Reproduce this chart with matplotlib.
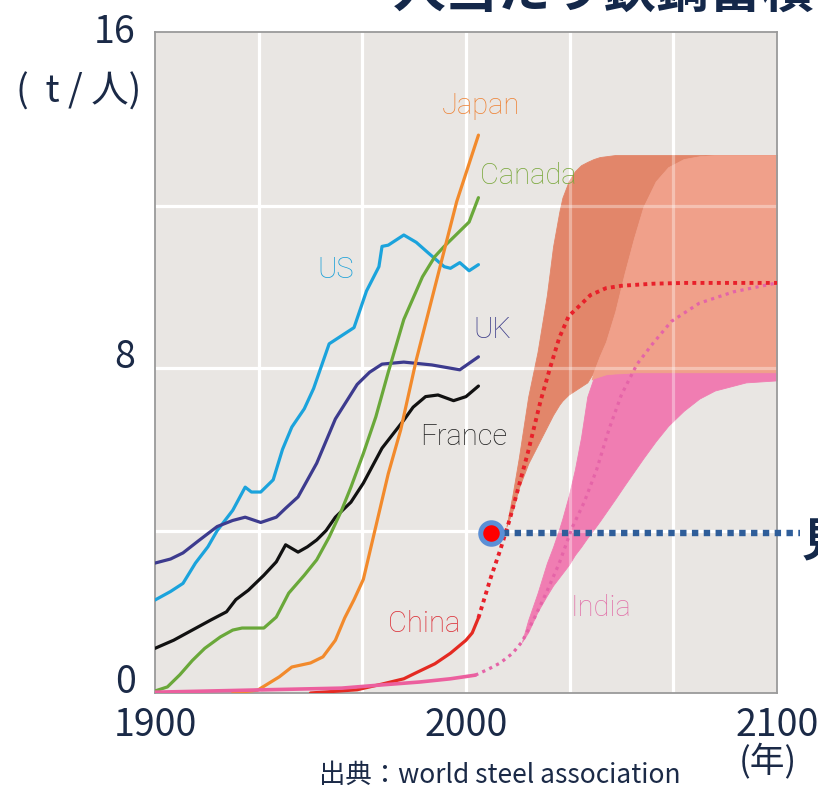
import numpy as np
import matplotlib
matplotlib.use("Agg")
import matplotlib.pyplot as plt
import matplotlib.transforms as mtransforms

# ---------------- data (t per capita steel stock) ----------------
us_years = [1900, 1905, 1909, 1913, 1917, 1920, 1925, 1929, 1931, 1934, 1938, 1941, 1944, 1948, 1951,
            1956, 1962, 1964, 1968, 1972, 1973, 1975, 1980, 1984, 1988, 1993, 1995, 1998, 2001, 2004]
us_vals = [2.29, 2.5, 2.7, 3.2, 3.6, 4.0, 4.5, 5.07, 4.95, 4.95, 5.25, 6.0, 6.55, 7.0, 7.5,
           8.6, 8.9, 9.0, 9.9, 10.5, 11.0, 11.03, 11.28, 11.1, 10.83, 10.5, 10.46, 10.6, 10.4, 10.55]

uk_years = [1900, 1905, 1909, 1914, 1920, 1925, 1929, 1934, 1939, 1942, 1946, 1952, 1958, 1965, 1969,
            1973, 1980, 1989, 1998, 2004]
uk_vals = [3.2, 3.3, 3.45, 3.75, 4.1, 4.25, 4.33, 4.2, 4.33, 4.55, 4.83, 5.66, 6.75, 7.6, 7.9,
           8.1, 8.15, 8.08, 7.96, 8.28]

fr_years = [1900, 1906, 1912, 1918, 1923, 1926, 1930, 1935, 1939, 1942, 1946, 1949, 1952, 1955, 1958,
            1963, 1967, 1973, 1980, 1983, 1987, 1991, 1996, 2000, 2004]
fr_vals = [1.1, 1.3, 1.55, 1.8, 2.0, 2.3, 2.53, 2.9, 3.23, 3.65, 3.47, 3.6, 3.77, 4.0, 4.33,
           4.7, 5.17, 6.03, 6.72, 7.04, 7.3, 7.34, 7.2, 7.3, 7.56]

ca_years = [1900, 1904, 1908, 1912, 1916, 1921, 1925, 1928, 1935, 1939, 1943, 1948, 1952, 1956, 1960,
            1963, 1967, 1971, 1975, 1980, 1986, 1990, 1993, 1997, 2001, 2004]
ca_vals = [0.05, 0.15, 0.45, 0.8, 1.1, 1.38, 1.55, 1.6, 1.6, 1.87, 2.46, 2.9, 3.28, 3.84, 4.5,
           5.07, 5.9, 6.8, 7.9, 9.2, 10.25, 10.75, 11.0, 11.3, 11.6, 12.2]

jp_years = [1925, 1933, 1940, 1944, 1950, 1954, 1958, 1961, 1964, 1967, 1971, 1975, 1979, 1984, 1990,
            1997, 2004]
jp_vals = [0.0, 0.07, 0.4, 0.64, 0.74, 0.89, 1.3, 1.85, 2.3, 2.8, 4.1, 5.4, 6.48, 8.2, 10.0,
           12.1, 13.74]

cn_years = [1950, 1965, 1973, 1980, 1984, 1990, 1995, 2000, 2002, 2004]
cn_vals = [0.0, 0.08, 0.22, 0.35, 0.5, 0.72, 0.98, 1.3, 1.48, 1.85]

in_years = [1900, 1930, 1960, 1973, 1985, 1995, 2003]
in_vals = [0.02, 0.07, 0.12, 0.2, 0.27, 0.35, 0.44]

# projections (dotted)
cn_proj_years = [2004, 2008, 2011, 2014, 2017, 2020, 2024, 2027, 2030, 2033, 2036, 2040, 2045, 2050,
                 2060, 2070, 2080, 2090, 2100]
cn_proj_vals = [1.85, 2.85, 3.52, 4.26, 5.1, 5.95, 7.2, 8.0, 8.75, 9.28, 9.5, 9.8, 9.97, 10.03,
                10.08, 10.1, 10.1, 10.1, 10.1]

in_proj_years = [2003, 2007, 2011, 2015, 2018, 2022, 2026, 2030, 2034, 2038, 2042, 2046, 2050, 2055,
                 2060, 2066, 2075, 2086, 2100]
in_proj_vals = [0.44, 0.58, 0.74, 0.98, 1.26, 1.85, 2.5, 3.2, 4.05, 4.7, 5.5, 6.5, 7.35, 8.1,
                8.6, 9.15, 9.6, 9.88, 10.1]

# projection ranges (bands)
band_years = [2013, 2015, 2017, 2018, 2020, 2023, 2026, 2028, 2030, 2031, 2033, 2035, 2037, 2039, 2041,
              2043, 2045, 2048, 2051, 2054, 2057, 2061, 2065, 2070, 2075, 2080, 2090, 2100]
cn_band_hi = [4.1, 4.9, 5.8, 6.3, 7.3, 8.4, 9.8, 11.0, 11.85, 12.2, 12.6, 12.85, 13.0, 13.08, 13.15,
              13.2, 13.22, 13.25, 13.25, 13.25, 13.25, 13.25, 13.25, 13.25, 13.25, 13.25, 13.25, 13.25]
cn_band_lo = [4.1, 4.5, 5.05, 5.25, 5.65, 6.1, 6.55, 6.85, 7.1, 7.2, 7.35, 7.45, 7.55, 7.65, 7.75,
              7.8, 7.85, 7.87, 7.88, 7.9, 7.9, 7.9, 7.9, 7.9, 7.9, 7.9, 7.9, 7.9]
in_band_hi = [np.nan, np.nan, np.nan, 1.26, 1.8, 2.46, 3.2, 3.6, 4.05, 4.3, 4.85, 5.5, 6.3, 7.3, 7.9,
              8.3, 8.65, 9.4, 10.34, 11.2, 11.97, 12.6, 12.95, 13.15, 13.22, 13.25, 13.25, 13.25]
in_band_lo = [np.nan, np.nan, np.nan, 1.26, 1.5, 2.0, 2.4, 2.65, 2.85, 2.95, 3.15, 3.4, 3.6, 3.82, 4.02,
              4.23, 4.45, 4.78, 5.12, 5.45, 5.78, 6.2, 6.58, 6.95, 7.25, 7.45, 7.65, 7.7]

marker_year, marker_val = 2008, 3.94
leader_end_year = 2107.5

x_ticks = [1900, 2000, 2100]
x_ticklabels = ["1900", "2000", "2100"]
y_ticks = [0, 8, 16]
y_ticklabels = ["0", "8", "16"]
grid_x = list(np.linspace(1900, 2100, 7)[1:-1])
grid_y = [4, 8, 12]

# ---------------- style ----------------
NAVY = "#1b2a47"
plt.rcParams['font.family'] = ['Noto Sans CJK JP', 'DejaVu Sans']
LABEL_FONT = ['Roboto', 'DejaVu Sans']

W, H = 818, 788
fig = plt.figure(figsize=(W / 100, H / 100), dpi=100)
fig.patch.set_facecolor('white')
ax = fig.add_axes([155 / W, 1 - 693 / H, (777 - 155) / W, (693 - 32) / H])
ax.set_xlim(1900, 2100)
ax.set_ylim(0, 16.28)
ax.set_facecolor('#e9e6e3')
for s in ax.spines.values():
    s.set_color('#9a9a9a')
    s.set_linewidth(1.3)

# grid under everything
for gx in grid_x:
    ax.axvline(gx, color='white', lw=2.3, zorder=0.5)
for gy in grid_y:
    ax.axhline(gy, color='white', lw=2.3, zorder=0.5)

# ---------------- bands ----------------
by = np.array(band_years, dtype=float)
cH = np.array(cn_band_hi); cL = np.array(cn_band_lo)
iH = np.array(in_band_hi); iL = np.array(in_band_lo)
has_in = ~np.isnan(iH)

C_DARK = '#e2866a'
C_OVER = '#f0a08a'
C_PINK = '#f07db2'

cn_only_lo = np.fmax(cL, iH)
ax.fill_between(by, cn_only_lo, cH, where=cn_only_lo < cH + 1e-9, interpolate=True,
                facecolor=C_DARK, edgecolor=C_DARK, lw=0.6, zorder=1)
in_only_hi = np.where(has_in, np.fmin(iH, cL), np.nan)
ax.fill_between(by, np.where(has_in, iL, np.nan), in_only_hi, where=has_in, interpolate=True,
                facecolor=C_PINK, edgecolor=C_PINK, lw=0.6, zorder=1)
ov_hi = np.where(has_in, iH, cL)
ax.fill_between(by, cL, ov_hi, where=ov_hi > cL, interpolate=True,
                facecolor=C_OVER, edgecolor=C_OVER, lw=0.6, zorder=1.1)

# faint grid showing through the bands
for gx in grid_x:
    ax.axvline(gx, color='white', lw=2.3, alpha=0.35, zorder=1.5)
for gy in grid_y:
    ax.axhline(gy, color='white', lw=2.3, alpha=0.35, zorder=1.5)

# ---------------- lines ----------------
LW = 2.3
ax.plot(us_years, us_vals, color='#1ba3dc', lw=LW, zorder=3, solid_capstyle='round')
ax.plot(uk_years, uk_vals, color='#3d3b8e', lw=LW, zorder=3, solid_capstyle='round')
ax.plot(fr_years, fr_vals, color='#111111', lw=LW, zorder=3, solid_capstyle='round')
ax.plot(ca_years, ca_vals, color='#6aa83a', lw=LW, zorder=3, solid_capstyle='round')
ax.plot(jp_years, jp_vals, color='#f28a2c', lw=LW, zorder=3, solid_capstyle='round')
ax.plot(cn_years, cn_vals, color='#e42a22', lw=LW, zorder=3, solid_capstyle='round')
ax.plot(in_years, in_vals, color='#ec5f9e', lw=LW + 0.3, zorder=3.2, solid_capstyle='round')

ax.plot(cn_proj_years, cn_proj_vals, color='#e8202a', lw=2.8, ls=(0, (1, 1.1)), zorder=3.5)
ax.plot(in_proj_years, in_proj_vals, color='#e564a8', lw=2.3, ls=(0, (1, 1.4)), zorder=3.4)

# leader line + marker
ax.plot([marker_year, leader_end_year], [marker_val, marker_val], color='#2f5e9a', lw=4.6,
        ls=(0, (1.0, 0.85)), solid_capstyle='butt', dash_capstyle='butt', zorder=4, clip_on=False)
ax.plot([marker_year], [marker_val], marker='o', ms=15.5, mew=3.6, mfc='#ff0000',
        mec='#5b8fd6', zorder=5, clip_on=False)

# ---------------- labels in plot ----------------
lbl = dict(family=LABEL_FONT, fontweight='light', fontsize=21, ha='center', va='center', zorder=6)
ax.text(2004.8, 14.46, "Japan", color='#ee8438', **lbl)
ax.text(2019.9, 12.73, "Canada", color='#7aa83c', **lbl)
ax.text(1958.2, 10.42, "US", color='#1aa0d8', **lbl)
ax.text(2008.4, 8.94, "UK", color='#3e3e8a', **lbl)
ax.text(1999.4, 6.31, "France", color='#222222', **lbl)
ax.text(1986.5, 1.70, "China", color='#dc3038', **lbl)
ax.text(2043.4, 2.09, "India", color='#e274aa', **lbl)

# ---------------- ticks ----------------
ax.set_xticks(x_ticks, x_ticklabels)
ax.set_yticks(y_ticks, y_ticklabels)
ax.tick_params(axis='both', length=0, labelsize=27, labelcolor=NAVY)
ax.tick_params(axis='x', pad=9)
ax.tick_params(axis='y', pad=14)
off = mtransforms.ScaledTranslation(0, 0.15, fig.dpi_scale_trans)
for t in ax.yaxis.get_major_ticks():
    t.label1.set_transform(t.label1.get_transform() + off)

# ---------------- figure texts ----------------
fig.text(79 / W, 1 - 92 / H, "(  t / 人)", fontsize=27, color=NAVY, ha='center', va='center')
fig.text(768 / W, 1 - 762 / H, "(年)", fontsize=25, color=NAVY, ha='center', va='center')
fig.text(500 / W, 1 - 783 / H, "出典：world steel association", fontsize=19, color=NAVY,
         ha='center', va='baseline')
fig.text(393 / W, 1 - 7 / H, "人当たり鉄鋼蓄積", fontsize=38, color='#14284a',
         fontweight='bold', ha='left', va='baseline')
fig.text(802 / W, 1 - 543 / H, "見", fontsize=33, color='#14284a', fontweight='bold',
         ha='left', va='center')

fig.savefig("out.png", dpi=100, facecolor='white')
